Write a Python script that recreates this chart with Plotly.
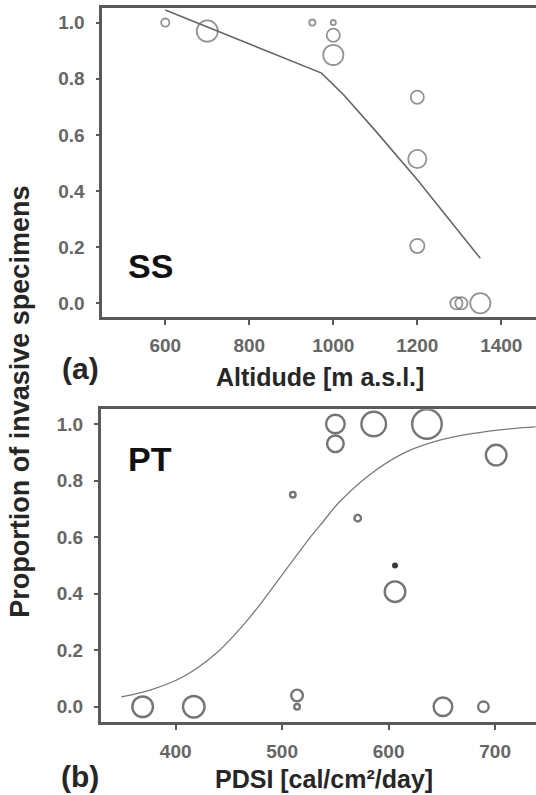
import plotly.graph_objects as go

# ---------------- data ----------------
# Panel (a): altitude vs proportion (SS)
ss_alt = [600, 700, 950, 1000, 1000, 1000, 1200, 1200, 1200, 1293, 1305, 1350]
ss_prop = [1.0, 0.97, 1.0, 1.0, 0.955, 0.885, 0.734, 0.514, 0.204, 0.0, 0.0, 0.0]
ss_diam = [10, 23, 8, 7, 15, 22, 15, 20, 16, 14, 14, 22]
ss_fit_x = [600, 700, 800, 900, 972, 1025, 1100, 1200, 1350]
ss_fit_y = [1.045, 0.985, 0.925, 0.865, 0.82, 0.742, 0.615, 0.44, 0.16]

# Panel (b): PDSI vs proportion (PT)
pt_pdsi = [369, 417, 510, 514, 514, 550, 550, 586, 571, 606, 636, 701, 651, 689]
pt_prop = [0.0, 0.0, 0.75, 0.04, 0.0, 1.0, 0.93, 1.0, 0.667, 0.407, 1.0, 0.89, 0.0, 0.0]
pt_diam = [23, 24, 8, 14, 8, 21, 19, 27, 9, 23, 32, 23, 21, 13]
pt_dot_x = [606]
pt_dot_y = [0.5]
pt_fit_x = [349, 376, 407, 438, 470, 501, 528, 536, 554, 586, 617, 648, 680, 711, 738]
pt_fit_y = [0.035, 0.059, 0.106, 0.189, 0.318, 0.472, 0.607, 0.643, 0.725, 0.831,
            0.902, 0.943, 0.967, 0.982, 0.990]

y_ticks = [0.0, 0.2, 0.4, 0.6, 0.8, 1.0]
ss_xticks = [600, 800, 1000, 1200, 1400]
pt_xticks = [400, 500, 600, 700]

# ---------------- layout helpers ----------------
W, H = 536, 795


def px(x):
    return x / W


def py(y):
    return 1 - y / H


FONT = "Arial, Liberation Sans, Helvetica, sans-serif"
AXC = "#5a5a5a"
TICKC = "#666666"

fig = go.Figure()

# panel (a)
lw_a = 1.8
fig.add_trace(go.Scatter(
    x=ss_fit_x, y=ss_fit_y, mode="lines",
    line=dict(color="#666666", width=1.6),
    xaxis="x", yaxis="y", showlegend=False, hoverinfo="skip"))
fig.add_trace(go.Scatter(
    x=ss_alt, y=ss_prop, mode="markers",
    marker=dict(symbol="circle-open", size=[d - lw_a for d in ss_diam],
                color="#666666", line=dict(width=lw_a)),
    xaxis="x", yaxis="y", showlegend=False))

# panel (b)
lw_b = 2.4
fig.add_trace(go.Scatter(
    x=pt_fit_x, y=pt_fit_y, mode="lines", line_shape="spline",
    line=dict(color="#7a7a7a", width=1.3),
    xaxis="x2", yaxis="y2", showlegend=False, hoverinfo="skip"))
fig.add_trace(go.Scatter(
    x=pt_pdsi, y=pt_prop, mode="markers",
    marker=dict(symbol="circle-open", size=[d - lw_b for d in pt_diam],
                color="#3a3a3a", line=dict(width=lw_b)),
    xaxis="x2", yaxis="y2", showlegend=False))
fig.add_trace(go.Scatter(
    x=pt_dot_x, y=pt_dot_y, mode="markers",
    marker=dict(symbol="circle", size=6, color="#3a3a3a"),
    xaxis="x2", yaxis="y2", showlegend=False))

tickfont = dict(family=FONT, size=19, color=TICKC, weight="bold")
common_x = dict(showgrid=False, zeroline=False, showline=True, linecolor=AXC,
                linewidth=2.6, mirror=True, ticks="outside", ticklen=5,
                tickwidth=1.5, tickcolor=AXC, tickfont=tickfont,
                ticklabelstandoff=5)
common_y = dict(showgrid=False, zeroline=False, showline=True, linecolor=AXC,
                linewidth=2.6, mirror=False, ticks="outside", ticklen=4,
                tickwidth=1.5, tickcolor=AXC, tickfont=tickfont,
                tickvals=y_ticks, tickformat=".1f", ticklabelstandoff=7)

fig.update_layout(
    width=W, height=H,
    margin=dict(l=0, r=0, t=0, b=0),
    paper_bgcolor="white", plot_bgcolor="white",
    xaxis=dict(common_x, domain=[px(102.3), 1.0], range=[450, 1482.6],
               tickvals=ss_xticks, anchor="y"),
    yaxis=dict(common_y, domain=[py(316.7), py(8.3)], range=[-0.048, 1.051],
               anchor="x"),
    xaxis2=dict(common_x, domain=[px(100.7), 1.0], range=[329.6, 738.4],
                tickvals=pt_xticks, anchor="y2"),
    yaxis2=dict(common_y, domain=[py(722.3), py(409.3)], range=[-0.055, 1.052],
                anchor="x2"),
)

title_font = dict(family=FONT, size=25, color="#262626", weight="bold")
lab_font = dict(family=FONT, size=30, color="#262626", weight="bold")
ann = [
    dict(text="Proportion of invasive specimens", x=px(20), y=py(401.7),
         textangle=-90, font=dict(family=FONT, size=27, color="#262626", weight="bold")),
    dict(text="Altidude [m a.s.l.]", x=px(320), y=py(377), font=title_font),
    dict(text="PDSI [cal/cm²/day]", x=px(324), y=py(794), yanchor="bottom",
         borderpad=0, font=title_font),
    dict(text="(a)", x=px(60), y=py(368), xanchor="left", font=lab_font),
    dict(text="(b)", x=px(60), y=py(794), yanchor="bottom", borderpad=0,
         xanchor="left", font=lab_font),
    dict(text="SS", x=px(126), y=py(265.7), xanchor="left",
         font=dict(family=FONT, size=34, color="#111111", weight="bold")),
    dict(text="PT", x=px(126), y=py(459), xanchor="left",
         font=dict(family=FONT, size=34, color="#111111", weight="bold")),
]
for a in ann:
    a.setdefault("xanchor", "center")
    a.setdefault("yanchor", "middle")
    a.update(xref="paper", yref="paper", showarrow=False)
fig.update_layout(annotations=ann)

fig.write_html("out.html",
               config={"displayModeBar": False},
               post_script="document.body.style.margin='0';"
                           "document.body.style.overflow='hidden';")
